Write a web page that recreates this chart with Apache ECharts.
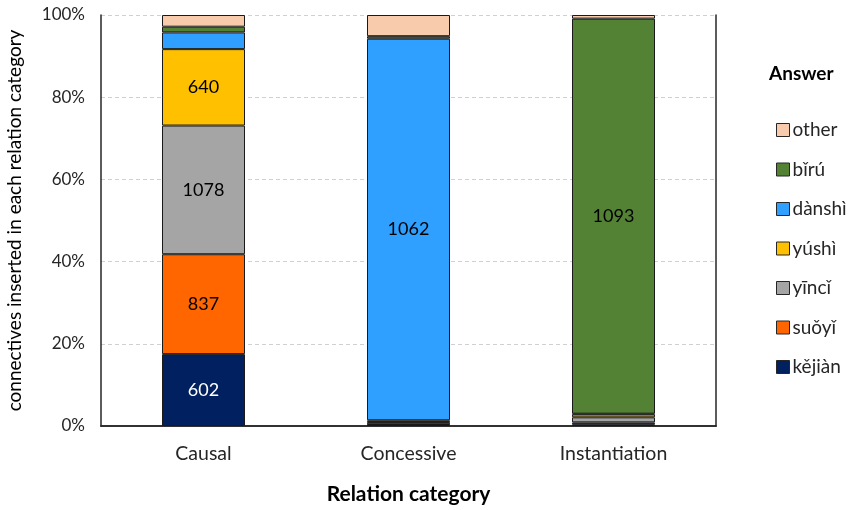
<!DOCTYPE html>
<html>
<head>
<meta charset="utf-8">
<script src="https://cdn.jsdelivr.net/npm/echarts@6/dist/echarts.min.js"></script>
<style>html,body{margin:0;padding:0;background:#fff}#c{width:849px;height:510px}</style>
</head>
<body>
<div id="c"></div>
<script>
const categories = ['Causal', 'Concessive', 'Instantiation'];
const yTicks = ['0%', '20%', '40%', '60%', '80%', '100%'];
// counts per answer (bottom to top of stack)
const kejian = [602, 3, 5];
const suoyi  = [837, 2, 5];
const yinci  = [1078, 6, 14];
const yushi  = [640, 5, 8];
const danshi = [140, 1062, 2];
const biru   = [48, 7, 1093];
const other  = [98, 59, 10];

const seriesDefs = [
  {name: 'kějiàn', data: kejian, color: '#002060', text: '#ffffff'},
  {name: 'suǒyǐ',  data: suoyi,  color: '#FF6600', text: '#000000'},
  {name: 'yīncǐ',  data: yinci,  color: '#A5A5A5', text: '#000000'},
  {name: 'yúshì',  data: yushi,  color: '#FFC000', text: '#000000'},
  {name: 'dànshì', data: danshi, color: '#2FA0FF', text: '#000000'},
  {name: 'bǐrú',   data: biru,   color: '#548235', text: '#000000'},
  {name: 'other',  data: other,  color: '#F8CBAD', text: '#000000'}
];
const totals = categories.map((_, i) => seriesDefs.reduce((s, d) => s + d.data[i], 0));
const FONT = 'Lato';

const series = seriesDefs.map(d => ({
  name: d.name,
  type: 'bar',
  stack: 'all',
  barWidth: 83,
  itemStyle: {color: d.color, borderColor: '#1a1a1a', borderWidth: 1},
  label: {
    show: true,
    position: 'inside',
    color: d.text,
    fontFamily: FONT,
    fontSize: 18,
    formatter: p => (d.data[p.dataIndex] > 500 ? String(d.data[p.dataIndex]) : '')
  },
  emphasis: {disabled: true},
  data: d.data.map((v, i) => v / totals[i] * 100)
}));

const chart = echarts.init(document.getElementById('c'), null, {renderer: 'canvas'});
chart.setOption({
  animation: false,
  backgroundColor: '#ffffff',
  grid: {left: 101, right: 133, top: 15, bottom: 84, show: false, containLabel: false, outerBoundsMode: 'none'},
  legend: {
    data: ['other', 'bǐrú', 'dànshì', 'yúshì', 'yīncǐ', 'suǒyǐ', 'kějiàn'],
    orient: 'vertical',
    left: 771,
    top: 115,
    itemWidth: 13,
    itemHeight: 13,
    itemGap: 19.5,
    icon: 'rect',
    itemStyle: {borderColor: '#262626', borderWidth: 1},
    textStyle: {fontFamily: FONT, fontSize: 19, lineHeight: 20, color: '#262626', padding: [0, 0, 0, -2]}
  },
  graphic: [{
    type: 'text',
    left: 769,
    top: 64,
    style: {text: 'Answer', font: 'bold 19px ' + FONT, fill: '#000000'}
  }],
  xAxis: [{
    type: 'category',
    data: categories,
    name: 'Relation category',
    nameLocation: 'middle',
    nameGap: 58,
    nameTextStyle: {fontFamily: FONT, fontSize: 21, fontWeight: 'bold', color: '#000'},
    axisLine: {lineStyle: {color: '#262626', width: 1.5}},
    axisTick: {show: false},
    axisLabel: {fontFamily: FONT, fontSize: 19.5, color: '#262626', margin: 18}
  }, {
    type: 'category',
    data: categories,
    position: 'top',
    axisLine: {show: true, lineStyle: {color: '#262626', width: 1.5}},
    axisTick: {show: false},
    axisLabel: {show: false},
    splitLine: {show: false}
  }],
  yAxis: [{
    type: 'value',
    min: 0,
    max: 100,
    interval: 20,
    name: 'connectives inserted in each relation category',
    nameLocation: 'middle',
    nameGap: 77,
    nameTextStyle: {fontFamily: FONT, fontSize: 19, color: '#000'},
    axisLine: {show: true, lineStyle: {color: '#262626', width: 1.5}},
    axisTick: {show: false},
    axisLabel: {fontFamily: FONT, fontSize: 17, color: '#262626', margin: 16, formatter: v => yTicks[Math.round(v / 20)]},
    splitLine: {lineStyle: {color: '#D0D0D0', type: [4, 3], width: 1}}
  }, {
    type: 'value',
    min: 0,
    max: 100,
    interval: 20,
    position: 'right',
    axisLine: {show: true, lineStyle: {color: '#262626', width: 1.5}},
    axisTick: {show: false},
    axisLabel: {show: false},
    splitLine: {show: false}
  }],
  series: series
});
</script>
</body>
</html>
